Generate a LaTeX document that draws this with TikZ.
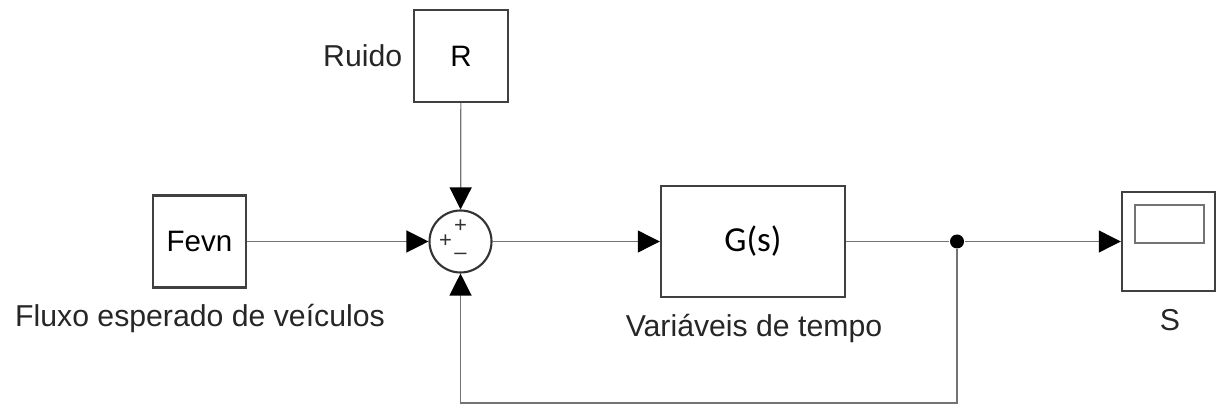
\documentclass[tikz,border=0pt]{standalone}
\usepackage{fontspec}
\setmainfont{Liberation Sans}
\newfontfamily\calibrifont{Carlito}
\usetikzlibrary{arrows.meta,positioning}

\begin{document}
\begin{tikzpicture}[->,>={Triangle[length=0.44cm,width=0.44cm,color=black]},
                    line width=0.7pt]
  \tikzstyle{bloco}=[rectangle,
                                    draw=black!75,
                                    line width=1.4pt,
                                    fill=white,
                                    inner sep=0pt,
                                    font=\fontsize{16.8}{19}\selectfont]
  \tikzstyle{somador}=[circle,
                                    draw=black!80,
                                    line width=1.2pt,
                                    minimum size=1.24cm,
                                    inner sep=0pt]
  \tikzstyle{sinal}=[inner sep=0pt,text=black!80,font=\fontsize{12.5}{12}\selectfont]
  \tikzstyle{rotulo}=[inner sep=0pt,text=black!85,
                                    font=\fontsize{17.2}{19}\selectfont]
  \tikzstyle{linha}=[draw=black!55,line width=0.7pt]
  \useasboundingbox (0,0) rectangle (24.34,8.2);
  %Blocos
  \node[bloco,minimum width=1.88cm,minimum height=1.84cm] (ruido) at (9.22,7.08) {R};
  \node[bloco,minimum width=1.86cm,minimum height=1.84cm] (fevn) at (3.99,3.37) {Fevn};
  \node[somador] (soma) at (9.21,3.37) {};
  \node[bloco,minimum width=3.68cm,minimum height=2.22cm,
        font=\calibrifont\fontsize{20}{22}\selectfont] (planta) at (15.06,3.37) {G(s)};
  \node[bloco,minimum width=1.86cm,minimum height=1.98cm] (scope) at (23.37,3.37) {};
  \node[draw=black!55,line width=1pt,minimum width=1.38cm,minimum height=0.76cm,
        inner sep=0pt] (tela) at (23.39,3.72) {};
  \node[circle,fill=black,minimum size=0.28cm,inner sep=0pt] (ramo) at (19.14,3.37) {};
  %Sinais do somador
  \node[sinal] (mais1) at ([yshift=0.3cm]soma.center) {+};
  \node[sinal] (mais2) at ([xshift=-0.3cm]soma.center) {+};
  \node[sinal] (menos) at ([yshift=-0.3cm]soma.center) {–};
  %Rotulos
  \node[rotulo,left=0.2cm of ruido] (txtruido) {Ruido};
  \node[rotulo,anchor=base] (txtfluxo) at (4.0,1.66) {Fluxo esperado de veículos};
  \node[rotulo,anchor=base] (txtvar) at (15.08,1.46) {Variáveis de tempo};
  \node[rotulo,anchor=base] (txts) at (23.4,1.58) {S};
  \coordinate (retorno) at (9.21,0.14);
  %Ligacoes
  \draw[linha] (ruido) -- (soma);
  \draw[linha] (fevn) -- (soma);
  \draw[linha] (soma) -- (planta);
  \draw[linha,-] (planta) -- (ramo);
  \draw[linha] (ramo) -- (scope);
  \draw[linha] (ramo) |- (retorno) -- (soma);
\end{tikzpicture}
\end{document}
